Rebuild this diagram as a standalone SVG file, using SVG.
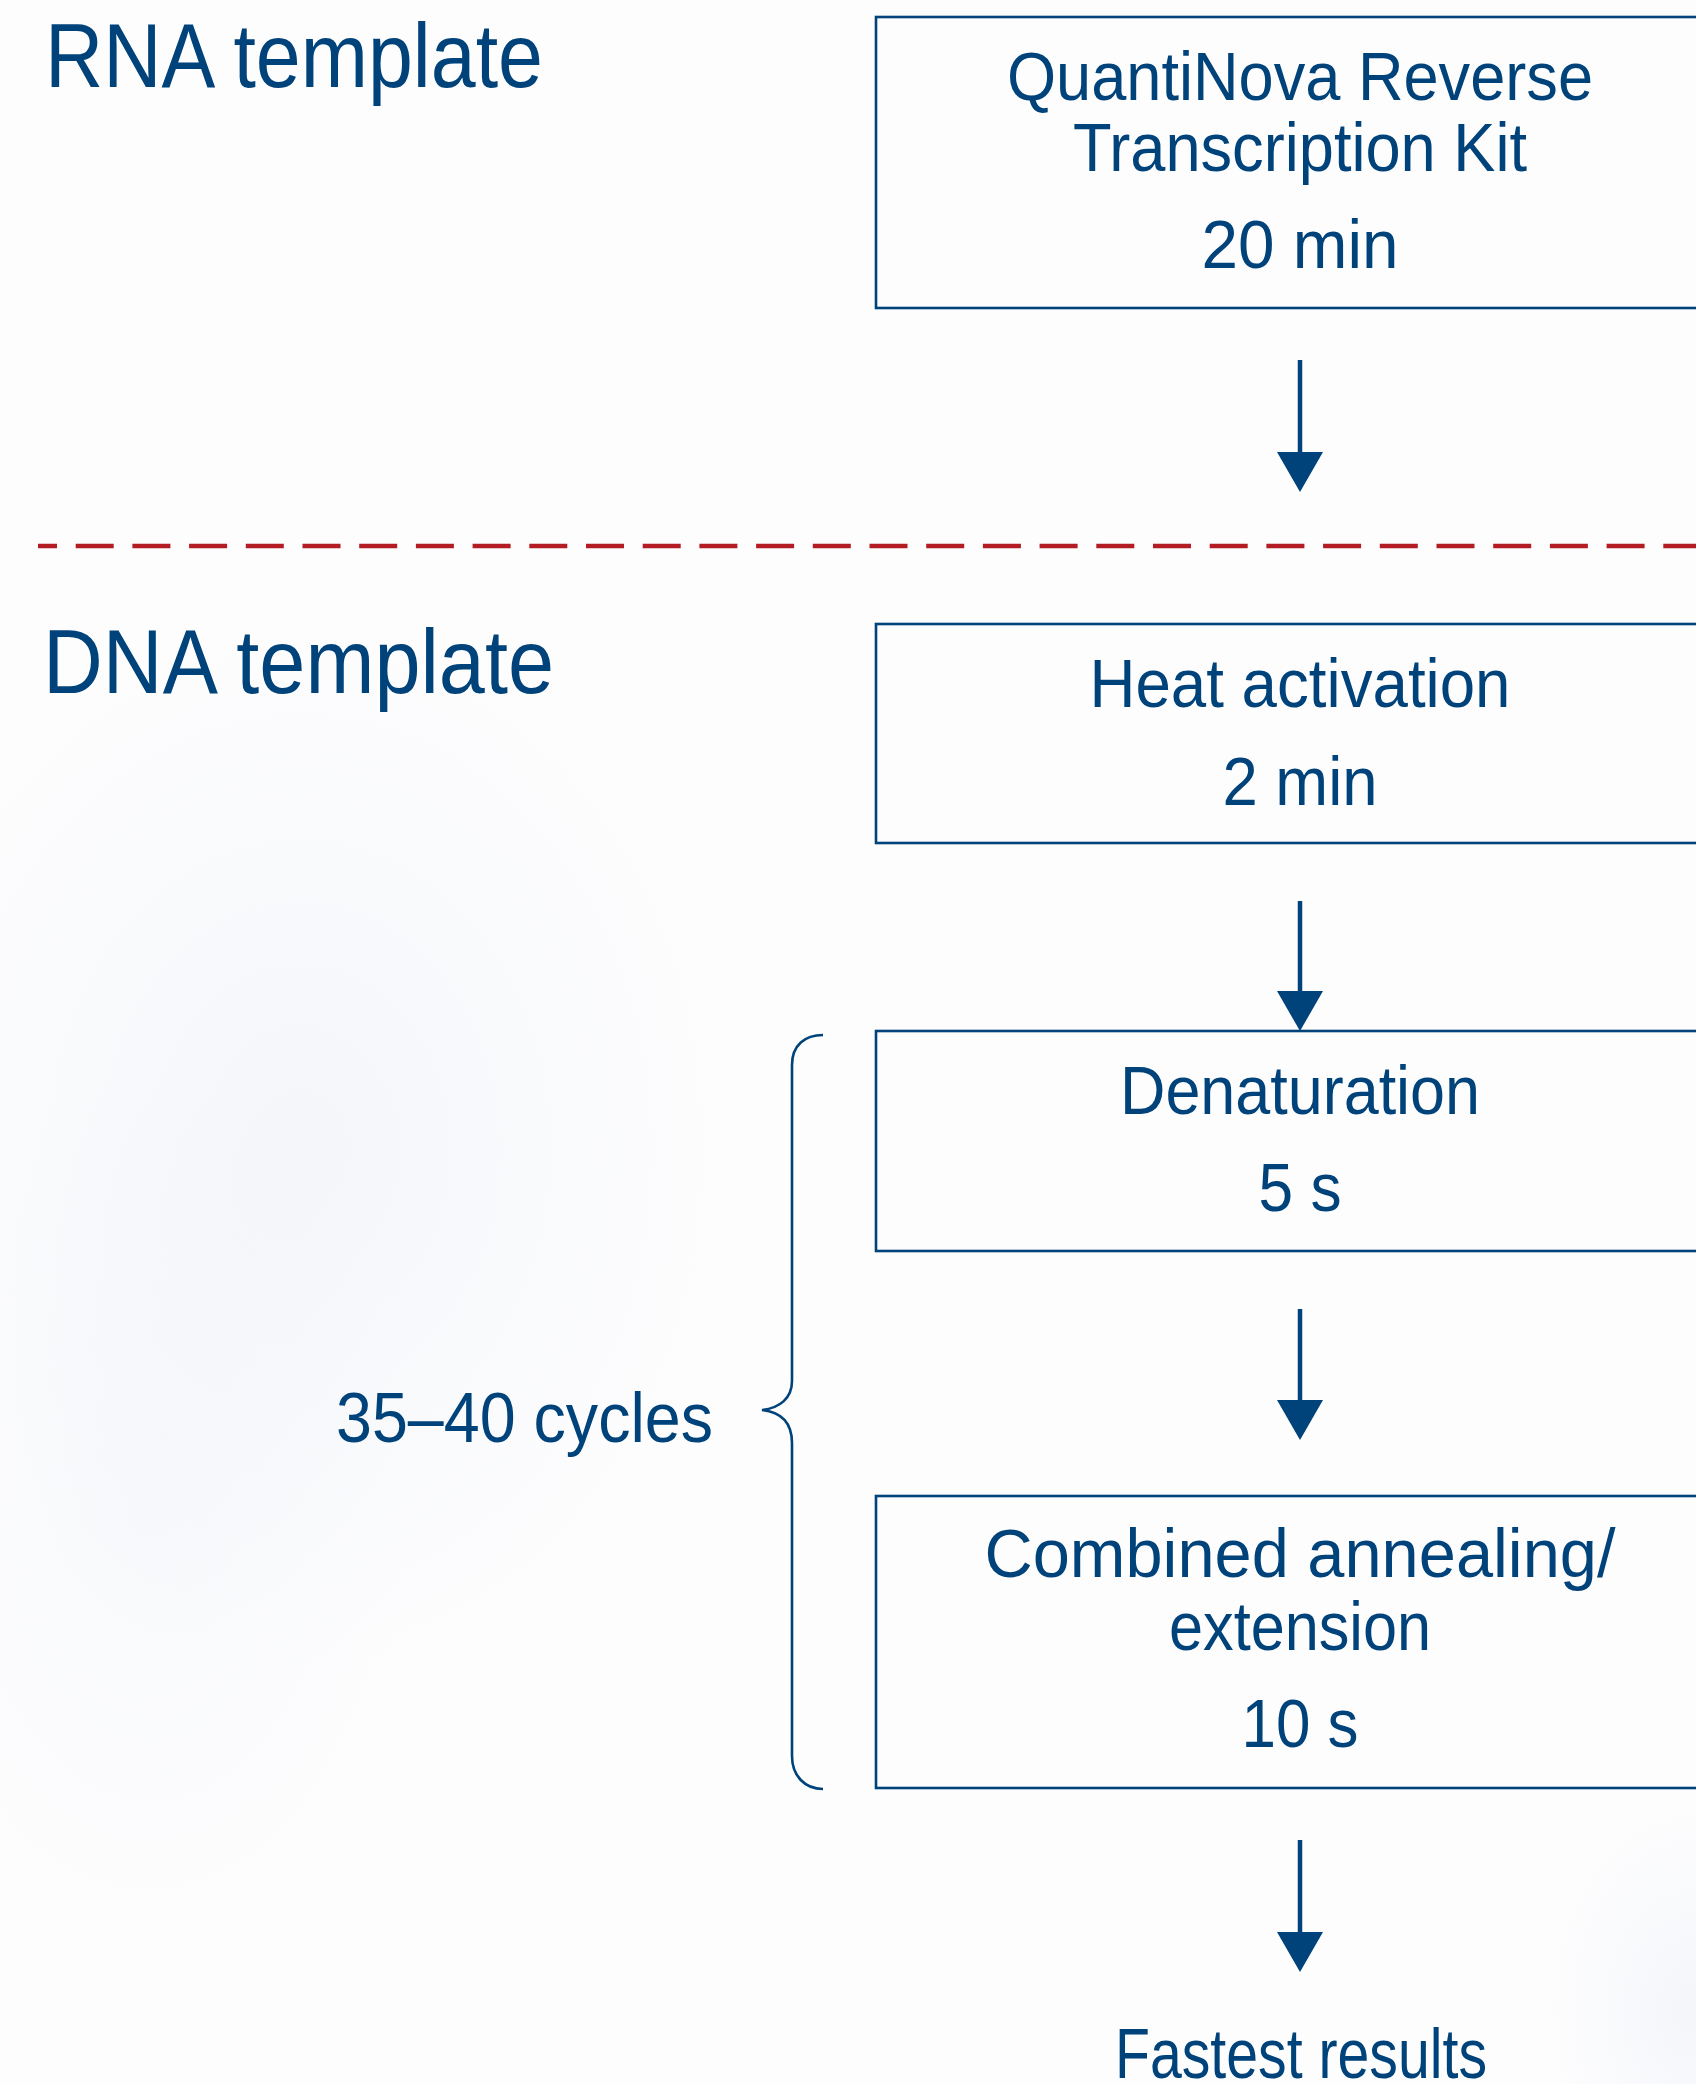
<svg xmlns="http://www.w3.org/2000/svg" width="1696" height="2084" viewBox="0 0 1696 2084">
<defs>
<style>
.t{font-family:"Liberation Sans",Arial,sans-serif;fill:#00427a;text-anchor:middle}
.title{font-size:90px;text-anchor:start}
.bx{font-size:68px}
.box{fill:none;stroke:#00427a;stroke-width:2.6}
.arr{fill:none;stroke:#00427a;stroke-width:4.5}
</style>
<marker id="ah" viewBox="0 0 40 46" refX="0" refY="23" markerWidth="40" markerHeight="46" markerUnits="userSpaceOnUse" orient="auto">
<path d="M0 0 L40 23 L0 46 Z" fill="#00427a"/>
</marker>
<radialGradient id="g1" cx="0.5" cy="0.5" r="0.5">
<stop offset="0" stop-color="#edf0f6" stop-opacity="0.8"/>
<stop offset="1" stop-color="#edf0f6" stop-opacity="0"/>
</radialGradient>
</defs>
<rect x="0" y="0" width="1696" height="2084" fill="#fdfdfe"/>
<g id="background">
<ellipse cx="300" cy="1150" rx="420" ry="520" fill="url(#g1)" opacity="0.7"/>
<ellipse cx="150" cy="1500" rx="260" ry="420" fill="url(#g1)" opacity="0.4"/>
<ellipse cx="1690" cy="2010" rx="140" ry="200" fill="url(#g1)" opacity="0.7"/>
</g>
<g id="section-labels">
<text id="rna-label" class="t title" x="45" y="87" textLength="498" lengthAdjust="spacingAndGlyphs">RNA template</text>
<text id="dna-label" class="t title" x="43" y="693" textLength="511" lengthAdjust="spacingAndGlyphs">DNA template</text>
</g>
<g id="separator">
<line x1="38" y1="546" x2="1696" y2="546" stroke="#b31c22" stroke-width="4.5" stroke-dasharray="38 18.7" stroke-dashoffset="19"/>
</g>
<g id="node-rt">
<rect class="box" x="876" y="17" width="860" height="291"/>
<text class="t bx" x="1300" y="100" textLength="586" lengthAdjust="spacingAndGlyphs">QuantiNova Reverse</text>
<text class="t bx" x="1300" y="171" textLength="454" lengthAdjust="spacingAndGlyphs">Transcription Kit</text>
<text class="t bx" x="1300" y="268" textLength="197" lengthAdjust="spacingAndGlyphs">20 min</text>
</g>
<g id="node-heat">
<rect class="box" x="876" y="624" width="860" height="219"/>
<text class="t bx" x="1300" y="707" textLength="421" lengthAdjust="spacingAndGlyphs">Heat activation</text>
<text class="t bx" x="1300" y="805" textLength="155" lengthAdjust="spacingAndGlyphs">2 min</text>
</g>
<g id="node-denat">
<rect class="box" x="876" y="1031" width="860" height="220"/>
<text class="t bx" x="1300" y="1114" textLength="360" lengthAdjust="spacingAndGlyphs">Denaturation</text>
<text class="t bx" x="1300" y="1211" textLength="83" lengthAdjust="spacingAndGlyphs">5 s</text>
</g>
<g id="node-anneal">
<rect class="box" x="876" y="1496" width="860" height="292"/>
<text class="t bx" x="1300" y="1577" textLength="631" lengthAdjust="spacingAndGlyphs">Combined annealing/</text>
<text class="t bx" x="1300" y="1650" textLength="262" lengthAdjust="spacingAndGlyphs">extension</text>
<text class="t bx" x="1300" y="1747" textLength="117" lengthAdjust="spacingAndGlyphs">10 s</text>
</g>
<g id="node-result">
<text class="t" x="1301" y="2078" font-size="70" textLength="372" lengthAdjust="spacingAndGlyphs">Fastest results</text>
</g>
<g id="cycles">
<path d="M823 1035 C805 1035 792 1045 792 1065 L792 1381 C792 1398 780 1408 762 1410 C780 1412 792 1422 792 1443 L792 1756 C792 1776 805 1789 823 1789" fill="none" stroke="#00427a" stroke-width="2.6"/>
<text class="t" x="336" y="1442" font-size="70" style="text-anchor:start" textLength="377" lengthAdjust="spacingAndGlyphs">35–40 cycles</text>
</g>
<g id="connectors">
<line class="arr" x1="1300" y1="360" x2="1300" y2="452" marker-end="url(#ah)"/>
<line class="arr" x1="1300" y1="901" x2="1300" y2="991" marker-end="url(#ah)"/>
<line class="arr" x1="1300" y1="1309" x2="1300" y2="1400" marker-end="url(#ah)"/>
<line class="arr" x1="1300" y1="1840" x2="1300" y2="1932" marker-end="url(#ah)"/>
</g>
</svg>
